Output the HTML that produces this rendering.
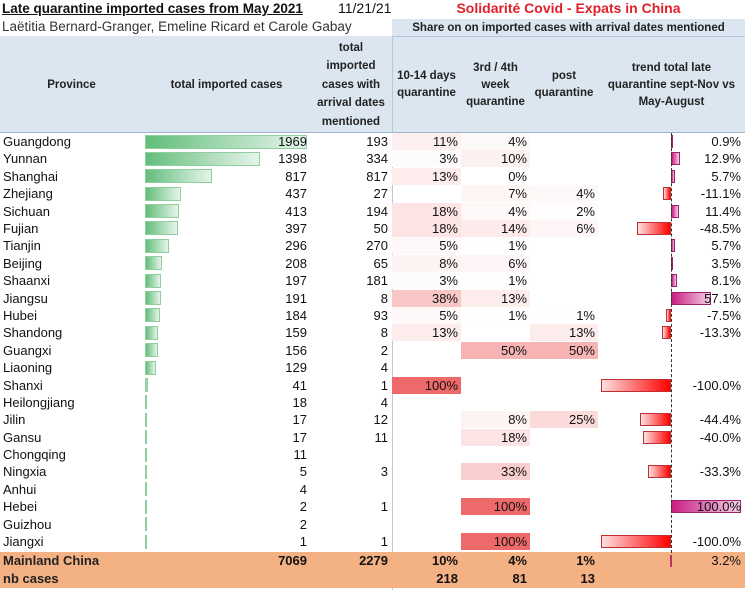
<!DOCTYPE html>
<html><head><meta charset="utf-8"><style>
body{margin:0;width:745px;height:590px;background:#fff;position:relative;overflow:hidden;font-family:"Liberation Sans",sans-serif;color:#111}
div{position:absolute;box-sizing:border-box}
.h{font-weight:bold;font-size:11.5px;text-align:center;line-height:17px;color:#222;display:flex;align-items:center;justify-content:center}
.t{font-size:13px;line-height:17px;white-space:nowrap}
.r{text-align:right}
</style></head><body>
<div style="left:0;top:36px;width:745px;height:97px;background:#dce6f1"></div>
<div style="left:392px;top:19px;width:353px;height:18px;background:#dce6f1;border-bottom:1px solid #b8c8dc"></div>
<div class="t" style="left:2px;top:0;font-weight:bold;font-size:13.5px;text-decoration:underline">Late quarantine imported cases from May 2021</div>
<div class="t" style="left:338px;top:0;font-size:14px">11/21/21</div>
<div class="t" style="left:2px;top:18px;font-size:13.5px;color:#333">Laëtitia Bernard-Granger, Emeline Ricard et Carole Gabay</div>
<div class="t" style="left:392px;top:0;width:353px;text-align:center;font-weight:bold;font-size:14px;color:#e0202a">Solidarité Covid - Expats in China</div>
<div class="h" style="left:392px;top:19px;width:353px;height:18px">Share on on imported cases with arrival dates mentioned</div>
<div class="h" style="left:0;top:37px;width:143px;height:96px">Province</div>
<div class="h" style="left:143px;top:37px;width:167px;height:96px">total imported cases</div>
<div class="h" style="left:310px;top:37px;width:82px;height:96px;line-height:18.5px">total<br>imported<br>cases with<br>arrival dates<br>mentioned</div>
<div class="h" style="left:392px;top:37px;width:69px;height:96px">10-14 days<br>quarantine</div>
<div class="h" style="left:461px;top:37px;width:69px;height:96px">3rd / 4th<br>week<br>quarantine</div>
<div class="h" style="left:530px;top:37px;width:68px;height:96px">post<br>quarantine</div>
<div class="h" style="left:598px;top:37px;width:147px;height:96px">trend total late<br>quarantine sept-Nov vs<br>May-August</div>
<div style="left:0;top:132px;width:745px;height:1px;background:#9fb3cc"></div>
<div style="left:392px;top:37px;width:1px;height:553px;background:#b8c8dc"></div>
<div style="left:0;top:552px;width:745px;height:36px;background:#f4b183"></div>
<div id="c"></div>
<script>
var D=[["Guangdong",1969,193,11,4,null,0.9],["Yunnan",1398,334,3,10,null,12.9],["Shanghai",817,817,13,0,null,5.7],["Zhejiang",437,27,null,7,4,-11.1],["Sichuan",413,194,18,4,2,11.4],["Fujian",397,50,18,14,6,-48.5],["Tianjin",296,270,5,1,null,5.7],["Beijing",208,65,8,6,null,3.5],["Shaanxi",197,181,3,1,null,8.1],["Jiangsu",191,8,38,13,null,57.1],["Hubei",184,93,5,1,1,-7.5],["Shandong",159,8,13,null,13,-13.3],["Guangxi",156,2,null,50,50,null],["Liaoning",129,4,null,null,null,null],["Shanxi",41,1,100,null,null,-100],["Heilongjiang",18,4,null,null,null,null],["Jilin",17,12,null,8,25,-44.4],["Gansu",17,11,null,18,null,-40],["Chongqing",11,null,null,null,null,null],["Ningxia",5,3,null,33,null,-33.3],["Anhui",4,null,null,null,null,null],["Hebei",2,1,null,100,null,100],["Guizhou",2,null,null,null,null,null],["Jiangxi",1,1,null,100,null,-100]];
var h="",cols=[[392,69],[461,69],[530,68]];
function bg(p){var a=p/100;var r=Math.round(255-a*17),g=Math.round(255-a*150),b=Math.round(255-a*150);return "rgb("+r+","+g+","+b+")";}
D.forEach(function(d,i){var y=(133+i*17.39).toFixed(1);
h+='<div class="t" style="left:3px;top:'+y+'px">'+d[0]+'</div>';
var w=Math.max(1,d[1]/1969*162);
h+='<div style="left:145px;top:'+(+y+1.5)+'px;width:'+w+'px;height:14px;background:linear-gradient(90deg,#63be7b,#e6f4ea);border:1px solid #8fcf9f"></div>';
h+='<div class="t r" style="left:143px;width:164px;top:'+y+'px">'+d[1]+'</div>';
if(d[2]!=null)h+='<div class="t r" style="left:310px;width:78px;top:'+y+'px">'+d[2]+'</div>';
for(var k=0;k<3;k++){var p=d[3+k];if(p==null)continue;var c=cols[k];
h+='<div class="t r" style="left:'+c[0]+'px;width:'+c[1]+'px;top:'+y+'px;padding-right:3px;background:'+bg(p)+'">'+p+'%</div>';}
var t=d[6];if(t!=null){var bw=Math.abs(t)*0.7;
if(t<0)h+='<div style="left:'+(671-bw)+'px;top:'+(+y+2)+'px;width:'+bw+'px;height:13px;background:linear-gradient(90deg,#fde0e0,#f00);border:1px solid #c03030"></div>';
else h+='<div style="left:671px;top:'+(+y+2)+'px;width:'+bw+'px;height:13px;background:linear-gradient(90deg,#c81e82,#f4d0e6);border:1px solid #a02070"></div>';
h+='<div class="t r" style="left:598px;width:143px;top:'+y+'px">'+t.toFixed(1)+'%</div>';}
});
h+='<div style="left:671px;top:133px;width:0;height:420px;border-left:1px dashed #333"></div>';
h+='<div class="t" style="left:3px;top:552px;font-weight:bold;color:#222">Mainland China</div><div class="t r" style="left:143px;width:164px;top:552px;font-weight:bold">7069</div><div class="t r" style="left:310px;width:78px;top:552px;font-weight:bold">2279</div>';
h+='<div class="t r" style="left:392px;width:66px;top:552px;font-weight:bold">10%</div><div class="t r" style="left:461px;width:66px;top:552px;font-weight:bold">4%</div><div class="t r" style="left:530px;width:65px;top:552px;font-weight:bold">1%</div>';
h+='<div style="left:670px;top:555px;width:2px;height:12px;background:#c03060"></div><div class="t r" style="left:598px;width:143px;top:552px">3.2%</div>';
h+='<div class="t" style="left:3px;top:570px;font-weight:bold;color:#222">nb cases</div><div class="t r" style="left:392px;width:66px;top:570px;font-weight:bold">218</div><div class="t r" style="left:461px;width:66px;top:570px;font-weight:bold">81</div><div class="t r" style="left:530px;width:65px;top:570px;font-weight:bold">13</div>';
document.getElementById("c").innerHTML=h;
</script>
</body></html>
